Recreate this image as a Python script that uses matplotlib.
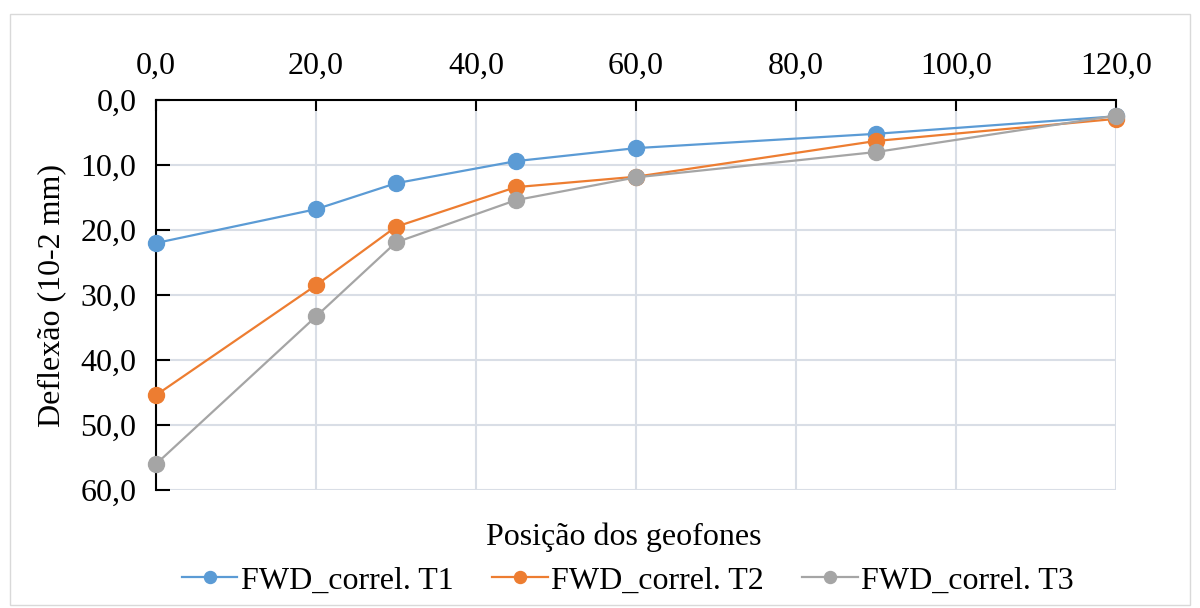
import matplotlib.pyplot as plt
from matplotlib.patches import Rectangle

# posições dos geofones (cm) e deflexões (10-2 mm)
posicao = [0, 20, 30, 45, 60, 90, 120]
t1 = [22.0, 16.8, 12.8, 9.4, 7.4, 5.2, 2.5]
t2 = [45.4, 28.5, 19.5, 13.4, 11.8, 6.3, 2.9]
t3 = [56.0, 33.3, 21.9, 15.4, 11.9, 8.0, 2.4]
nomes = ['FWD_correl. T1', 'FWD_correl. T2', 'FWD_correl. T3']
cores = ['#5B9BD5', '#ED7D31', '#A5A5A5']

plt.rcParams['font.family'] = ['Liberation Serif', 'DejaVu Serif']

fig = plt.figure(figsize=(12, 6.08), dpi=100)
ax = fig.add_axes([0.13, 0.194, 0.80, 0.6415])

# borda da área do gráfico
fig.patches.append(Rectangle((0.008, 0.005), 0.984, 0.972, transform=fig.transFigure,
                             fill=False, edgecolor='#D9D9D9', linewidth=1.0))

for serie, nome, cor in zip([t1, t2, t3], nomes, cores):
    ax.plot(posicao, serie, '-o', color=cor, lw=1.6, markersize=11.5, label=nome,
            zorder=3, clip_on=False)

ax.set_xlim(0, 120)
ax.set_ylim(60, 0)
ax.set_xticks(range(0, 121, 20))
ax.set_yticks(range(0, 61, 10))
ax.set_xticklabels([f'{v:.1f}'.replace('.', ',') for v in range(0, 121, 20)])
ax.set_yticklabels([f'{v:.1f}'.replace('.', ',') for v in range(0, 61, 10)])
ax.xaxis.tick_top()
ax.tick_params(axis='x', direction='in', length=8, width=1.5, labelsize=23, pad=14)
ax.tick_params(axis='y', direction='in', length=10, width=1.5, labelsize=23, pad=14)
ax.grid(True, color='#D9DEE6', lw=1.5, zorder=0)

for s in ['right', 'bottom']:
    ax.spines[s].set_visible(False)
for s in ['left', 'top']:
    ax.spines[s].set_linewidth(1.5)

ax.set_ylabel('Deflexão (10-2 mm)', fontsize=23, labelpad=10)
fig.text(0.52, 0.117, 'Posição dos geofones', fontsize=23, ha='center', va='center')
fig.legend(loc='center', bbox_to_anchor=(0.523, 0.045), ncol=3, fontsize=23, frameon=False,
           handlelength=1.75, columnspacing=1.2, handletextpad=0.1, borderaxespad=0,
           markerscale=0.75)

fig.savefig('out.png', dpi=100)
